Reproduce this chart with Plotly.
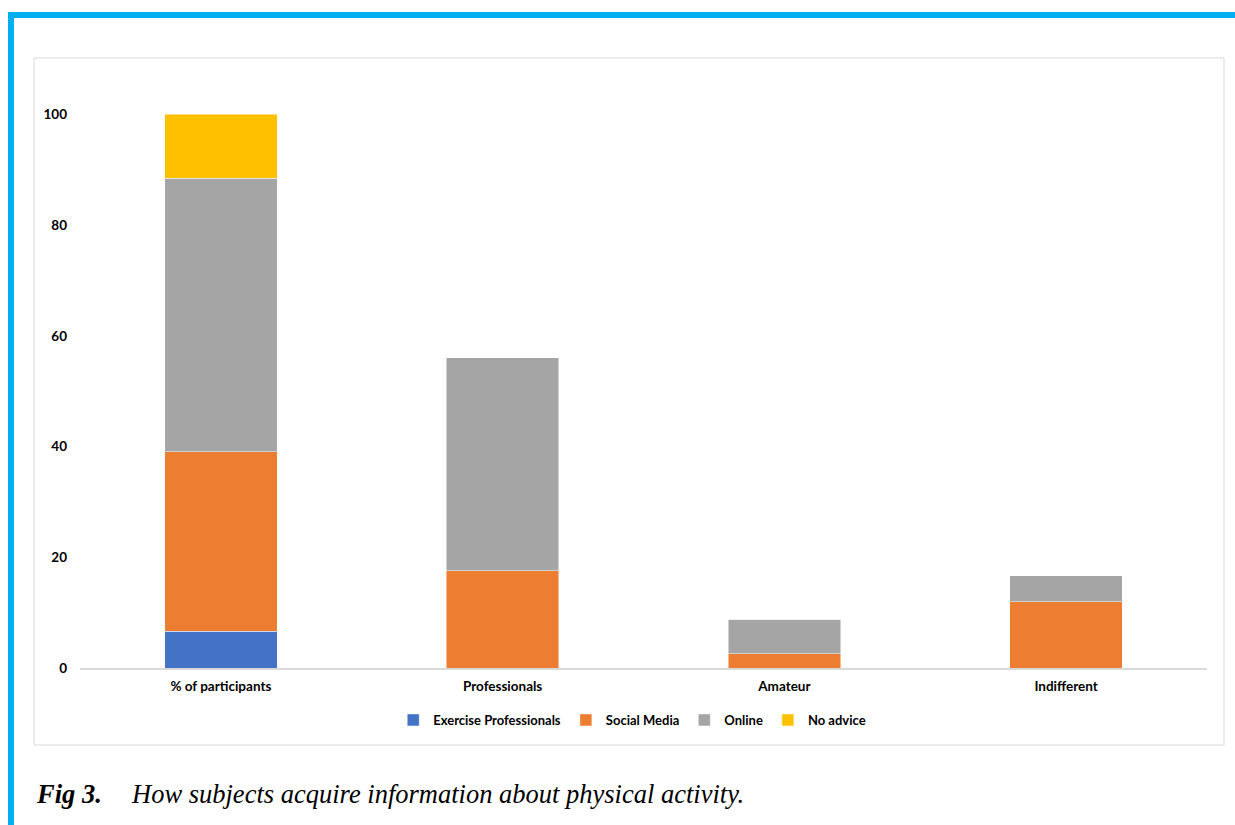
import plotly.graph_objects as go

categories = ["% of participants", "Professionals", "Amateur", "Indifferent"]
exercise_prof = [6.6, 0, 0, 0]
social_media = [32.5, 17.6, 2.6, 12.0]
online = [49.4, 38.4, 6.2, 4.7]
no_advice = [11.5, 0, 0, 0]
y_ticks = [0, 20, 40, 60, 80, 100]

W, H = 1235, 825
ML, MR, MT, MB = 80, 28, 59, 157


def px(x):
    return (x - ML) / (W - ML - MR)


def py(y):
    return (H - MB - y) / (H - MT - MB)


FAM = "Lato, Open Sans, sans-serif"
tick_font = dict(family=FAM, size=13.5, color="#000", weight="bold")

fig = go.Figure()
series = [
    ("Exercise Professionals", exercise_prof, "#4472C4"),
    ("Social Media", social_media, "#ED7D31"),
    ("Online", online, "#A5A5A5"),
    ("No advice", no_advice, "#FFC000"),
]
for name, vals, col in series:
    fig.add_trace(go.Bar(
        x=categories, y=vals, name=name,
        marker=dict(color=col, line=dict(color="rgba(255,255,255,0.6)", width=0.8)),
    ))

shapes = [
    dict(type="rect", xref="paper", yref="paper", x0=px(34), x1=px(1224), y0=py(745), y1=py(58),
         line=dict(color="#D9D9D9", width=1), fillcolor="rgba(0,0,0,0)", layer="below"),
    dict(type="rect", xref="paper", yref="paper", x0=px(8), x1=px(1240), y0=py(18), y1=py(12),
         line=dict(width=0), fillcolor="#00B0F0"),
    dict(type="rect", xref="paper", yref="paper", x0=px(8), x1=px(14), y0=py(830), y1=py(12),
         line=dict(width=0), fillcolor="#00B0F0"),
]

SERIF = "Liberation Serif, Times New Roman, serif"
annotations = [
    dict(text="<b><i>Fig 3.</i></b>", xref="paper", yref="paper", x=px(34), y=py(794),
         xanchor="left", yanchor="middle", showarrow=False,
         font=dict(family=SERIF, size=26.5, color="#000")),
    dict(text="<i>How subjects acquire information about physical activity.</i>", xref="paper", yref="paper",
         x=px(129), y=py(794), xanchor="left", yanchor="middle", showarrow=False,
         font=dict(family=SERIF, size=26.5, color="#000")),
]

fig.update_layout(
    width=W, height=H,
    margin=dict(l=ML, r=MR, t=MT, b=MB, autoexpand=False),
    barmode="stack", bargap=0.6,
    plot_bgcolor="white", paper_bgcolor="white",
    font=dict(family=FAM, size=12, color="#000"),
    showlegend=True,
    legend=dict(orientation="h", x=0.49, xanchor="center", y=py(720), yanchor="middle",
                font=dict(family=FAM, size=13, color="#000", weight="bold"),
                itemwidth=30, traceorder="normal"),
    xaxis=dict(showline=True, linecolor="#D9D9D9", linewidth=1.5, ticks="",
               tickfont=tick_font, showgrid=False, zeroline=False, ticklabelstandoff=5),
    yaxis=dict(range=[0, 110], tickvals=y_ticks, showgrid=False, zeroline=False, showline=False,
               ticks="", ticklabelstandoff=12, tickfont=tick_font),
    shapes=shapes, annotations=annotations,
)

fig.write_html("out.html")
